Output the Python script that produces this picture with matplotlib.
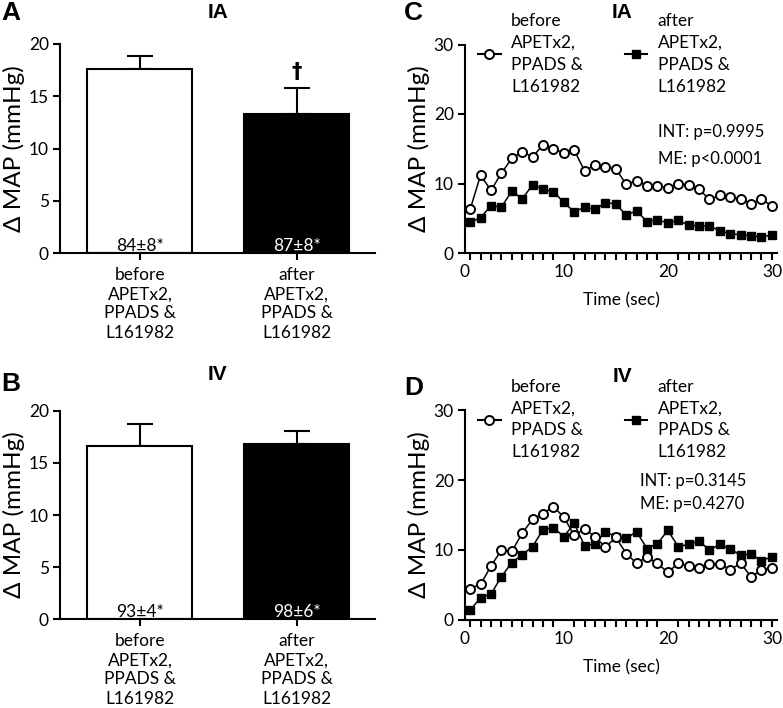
import numpy as np
import matplotlib
matplotlib.use("Agg")
import matplotlib.pyplot as plt
from matplotlib.lines import Line2D

plt.rcParams['font.family'] = ['Lato', 'DejaVu Sans']

# --- bar data (panels A, B) ---
groups = ["before\nAPETx2,\nPPADS &\nL161982", "after\nAPETx2,\nPPADS &\nL161982"]
ia_mean = [17.6, 13.3]
ia_sem = [1.25, 2.45]
ia_base = ["84\u00b18*", "87\u00b18*"]
iv_mean = [16.6, 16.8]
iv_sem = [2.15, 1.25]
iv_base = ["93\u00b14*", "98\u00b16*"]

# --- time course data (panels C, D) ---
time_s = np.arange(1, 31)
ia_before = [6.3, 11.2, 9.0, 11.5, 13.6, 14.6, 13.8, 15.6, 15.0, 14.4,
             14.8, 11.8, 12.7, 12.4, 12.1, 9.9, 10.4, 9.7, 9.7, 9.3,
             10.0, 9.8, 9.2, 7.7, 8.3, 8.0, 7.8, 7.1, 7.7, 6.8]
ia_after = [4.4, 5.1, 6.8, 6.6, 8.9, 7.8, 9.8, 9.2, 8.8, 7.3,
            5.9, 6.6, 6.3, 7.2, 7.1, 5.4, 6.1, 4.5, 4.8, 4.3,
            4.7, 4.0, 3.9, 3.9, 3.2, 2.8, 2.6, 2.5, 2.3, 2.6]
iv_before = [4.5, 5.1, 7.7, 10.0, 9.8, 12.4, 14.4, 15.2, 16.2, 14.7,
             12.1, 13.0, 11.9, 10.4, 11.8, 9.5, 8.1, 9.0, 8.1, 6.8,
             8.1, 7.7, 7.4, 8.0, 8.0, 7.2, 8.1, 6.2, 7.1, 7.5]
iv_after = [1.4, 3.2, 3.7, 6.2, 8.2, 9.3, 10.5, 12.9, 13.2, 11.9,
            13.8, 10.6, 10.9, 12.6, 11.9, 11.7, 12.6, 10.2, 10.9, 12.8,
            10.5, 10.8, 11.3, 10.0, 10.8, 10.1, 9.3, 9.4, 8.5, 9.0]
ia_stats = ["INT: p=0.9995", "ME: p<0.0001"]
iv_stats = ["INT: p=0.3145", "ME: p=0.4270"]
leg_labels = ["before\nAPETx2,\nPPADS &\nL161982", "after\nAPETx2,\nPPADS &\nL161982"]

FS = 12.5
W, H = 783, 708
fig = plt.figure(figsize=(W / 100, H / 100), dpi=100)


def box(l, t, r, b):
    return [l / W, 1 - b / H, (r - l) / W, (b - t) / H]


def ftext(x, y, s, **kw):
    fig.text(x / W, 1 - y / H, s, **kw)


def style(ax):
    for side in ["top", "right"]:
        ax.spines[side].set_visible(False)
    for side in ["left", "bottom"]:
        ax.spines[side].set_linewidth(1.5)
    ax.tick_params(width=1.5, length=5, labelsize=FS, pad=3)


def bar_panel(ax, means, sems, base):
    x = [0, 1]
    ax.errorbar(x, means, yerr=[[0, 0], sems], fmt='none', ecolor='k',
                elinewidth=1.5, capsize=9.5, capthick=1.5, zorder=1)
    ax.bar(x, means, width=0.67, color=['white', 'black'], edgecolor='k',
           linewidth=1.5, zorder=2)
    ax.text(0, 0.15, base[0], ha='center', va='baseline', fontsize=FS, color='k', zorder=3)
    ax.text(1, 0.15, base[1], ha='center', va='baseline', fontsize=FS, color='white', zorder=3)
    ax.set_xlim(-0.51, 1.5)
    ax.set_ylim(0, 20)
    ax.set_yticks([0, 5, 10, 15, 20])
    ax.set_xticks(x)
    ax.set_xticklabels(groups, linespacing=1.25)
    style(ax)
    ax.tick_params(axis='x', pad=5)
    ax.set_ylabel("\u0394 MAP (mmHg)", fontsize=17.5, labelpad=3)


def line_panel(ax, before, after, stats, sy, sx):
    ax.plot(time_s, before, '-o', color='k', mfc='white', mec='k', ms=6.5,
            mew=1.4, lw=1.1, zorder=3)
    ax.plot(time_s, after, '-s', color='k', mfc='k', mec='k', ms=5.5,
            lw=1.1, zorder=2)
    ax.set_xlim(0.5, 30.5)
    ax.set_ylim(0, 30)
    ax.set_yticks([0, 10, 20, 30])
    ax.set_xticks([0.5, 10, 20, 30.1])
    ax.set_xticklabels(["0", "10", "20", "30"])
    ax.set_xticks(time_s, minor=True)
    style(ax)
    ax.tick_params(axis='x', which='major', length=0, pad=8)
    ax.tick_params(axis='x', which='minor', width=1.5, length=5)
    ax.set_ylabel("\u0394 MAP (mmHg)", fontsize=17.5, labelpad=3)
    ax.set_xlabel("Time (sec)", fontsize=12.5, labelpad=9)
    h = [Line2D([], [], color='k', marker='o', mfc='white', mec='k', ms=6.5, mew=1.4, lw=1.5),
         Line2D([], [], color='k', marker='s', mfc='k', mec='k', ms=5.5, lw=1.5)]
    leg = ax.legend(h, leg_labels, loc='center left', bbox_to_anchor=(0.02, 0.955),
                    ncol=2, frameon=False, fontsize=FS, handlelength=1.3,
                    handletextpad=0.6, columnspacing=2.4, borderaxespad=0,
                    labelspacing=0)
    for t in leg.get_texts():
        t.set_linespacing(1.45)
    for s, dy in zip(stats, sy):
        ax.text(sx, dy, s, transform=ax.transAxes,
                fontsize=12, va='center', ha='left')


axA = fig.add_axes(box(60, 44, 375, 253))
bar_panel(axA, ia_mean, ia_sem, ia_base)
axA.text(1, 16.4, "\u2020", ha='center', va='bottom', fontsize=15,
         fontweight='bold', family=['DejaVu Sans'])

axB = fig.add_axes(box(60, 411, 375, 619))
bar_panel(axB, iv_mean, iv_sem, iv_base)

axC = fig.add_axes(box(465, 44.5, 777, 253))
line_panel(axC, ia_before, ia_after, ia_stats, [0.58, 0.45], 0.62)

axD = fig.add_axes(box(465, 410, 777, 620))
line_panel(axD, iv_before, iv_after, iv_stats, [0.66, 0.55], 0.56)

bold = dict(family=['Liberation Sans', 'DejaVu Sans'], fontweight='bold', va='center')
ftext(1, 13, "A", fontsize=19, **bold)
ftext(1, 384, "B", fontsize=19, **bold)
ftext(404, 13, "C", fontsize=19, **bold)
ftext(404, 388, "D", fontsize=19, **bold)
ftext(218, 12, "IA", fontsize=15, ha='center', **bold)
ftext(217, 375, "IV", fontsize=15, ha='center', **bold)
ftext(622, 12, "IA", fontsize=15, ha='center', **bold)
ftext(622, 377, "IV", fontsize=15, ha='center', **bold)

fig.savefig("out.png", dpi=100)
